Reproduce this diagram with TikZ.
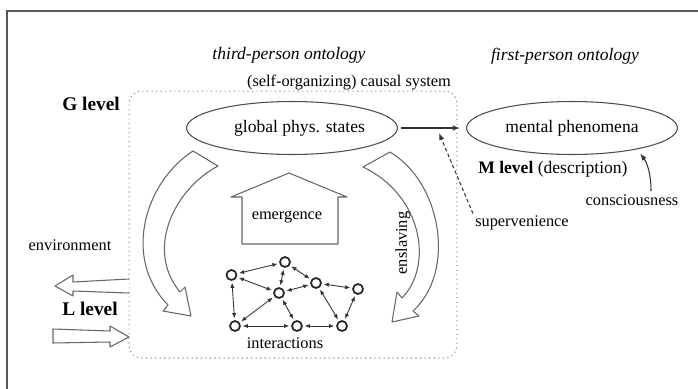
\documentclass[tikz,border=0pt]{standalone}
\usepackage{fontspec}
\setmainfont{Liberation Serif}
\usetikzlibrary{arrows.meta, positioning, shapes.geometric}

\begin{document}
\begin{tikzpicture}[
  x=0.02cm,
  y=-0.02cm,
  line width=0.6pt,
  txt/.style={
    font=\fontsize{9.3}{11}\selectfont,
    inner sep=1pt
  },
  heading/.style={
    font=\fontsize{10}{12}\selectfont\itshape,
    inner sep=1pt
  },
  levelname/.style={
    font=\fontsize{11}{13}\selectfont\bfseries,
    inner sep=1pt
  },
  statebox/.style={
    draw=black!70,
    ellipse,
    font=\fontsize{10}{12}\selectfont,
    minimum width=4.22cm,
    minimum height=1.06cm,
    inner sep=0pt
  },
  blockarrow/.style={
    draw=black!60,
    fill=white,
    line width=0.6pt,
    line join=round
  },
  agent/.style={
    circle,
    draw=black!85,
    line width=1pt,
    minimum size=0.2cm,
    inner sep=0pt
  },
  link/.style={
    {Latex[length=3pt,width=2.4pt]}-{Latex[length=3pt,width=2.4pt]},
    draw=black!80,
    line width=0.5pt,
    shorten <=1pt,
    shorten >=1pt
  }
]

\useasboundingbox (0,0) rectangle (698,389);

% Outer frame
\draw[black!65, line width=1.2pt] (7,389) -- (7,11) -- (698,11);

% Headings
\node[heading] (third) at (289,55) {third-person ontology};
\node[heading] (first) at (565,56) {first-person ontology};

% -------------------------------------------------------------------
% causal system
% -------------------------------------------------------------------
\node[
  draw=black!50,
  dotted,
  rounded corners=0.24cm,
  minimum width=6.56cm,
  minimum height=5.34cm
] (sys) at (293,224.5) {};

\node[txt] (causal) at (349,83) {(self-organizing) causal system};
\node[levelname] (glev) at (91,104) {G level};
\node[levelname] (llev) at (90,309) {L level};

\node[statebox] (gps) at (292,128) {\hspace*{0.3cm}global phys. states};

% emergence
\draw[blockarrow] (289,173) -- (347,197) -- (338,197) -- (338,244)
  -- (242,244) -- (242,197) -- (231,197) -- cycle;
\node[txt] (emerg) at (287,217) {emergence};

% downward causation, left
\draw[blockarrow] (193,151) .. controls (145,182) and (122,258) .. (168,305)
  -- (163,311) -- (191,316) -- (185,287) -- (180,292)
  .. controls (144,248) and (176,188) .. (218,166) -- cycle;

% enslaving, right
\draw[blockarrow] (390,152) .. controls (442,183) and (456,272) .. (413,311)
  -- (419,316) -- (392,322) -- (397,292) -- (402,298)
  .. controls (434,265) and (422,195) .. (363,167) -- cycle;
\node[txt, rotate=90] (ensl) at (403,243) {enslaving};

% -------------------------------------------------------------------
% interactions
% -------------------------------------------------------------------
\node[agent] (a1) at (231.5,275) {};
\node[agent] (a2) at (285,262) {};
\node[agent] (a3) at (316,283) {};
\node[agent] (a4) at (358,289) {};
\node[agent] (a5) at (279,293) {};
\node[agent] (a6) at (235,326) {};
\node[agent] (a7) at (297,326) {};
\node[agent] (a8) at (342,326) {};

\draw[link] (a1) -- (a2);
\draw[link] (a1) -- (a5);
\draw[link] (a1) -- (a6);
\draw[link] (a2) -- (a5);
\draw[link] (a2) -- (a3);
\draw[link] (a3) -- (a5);
\draw[link] (a3) -- (a4);
\draw[link] (a3) -- (a8);
\draw[link] (a4) -- (a8);
\draw[link] (a5) -- (a6);
\draw[link] (a5) -- (a7);
\draw[link] (a6) -- (a7);
\draw[link] (a7) -- (a8);

\node[txt] (inter) at (285,343) {interactions};

% environment
\node[txt] (env) at (70,245) {environment};
\draw[blockarrow] (129,279) -- (73,282) -- (73,275) -- (55,286)
  -- (73,296) -- (73,291) -- (129,293);
\draw[blockarrow] (53,329) -- (110,331) -- (110,326) -- (129,337)
  -- (110,347) -- (110,342) -- (53,343) -- cycle;

% -------------------------------------------------------------------
% mental side
% -------------------------------------------------------------------
\node[statebox] (mental) at (572,128) {mental phenomena};

\draw[-{Latex[length=4pt,width=3pt]}, black!80, shorten <=0.06cm, shorten >=0.12cm]
  (gps) -- (mental);

\node[
  font=\fontsize{10}{12}\selectfont,
  inner sep=1pt,
  anchor=west
] (mlev) at (476,169) {\textbf{M level} (description)};

\node[txt, anchor=west] (superv) at (473,223) {supervenience};
\coordinate (svtip) at (439,133);
\draw[-{Latex[length=4pt,width=3pt]}, black!80, dash pattern=on 2pt off 1.5pt]
  (superv.north west) -- (svtip);

\node[txt] (consc) at (632,200) {consciousness};
\coordinate (cfoot) at (651,191);
\draw[-{Latex[length=4pt,width=3pt]}, black!80, shorten >=0.1cm]
  (cfoot) to[out=90, in=-55] (mental.-18);

\end{tikzpicture}
\end{document}
